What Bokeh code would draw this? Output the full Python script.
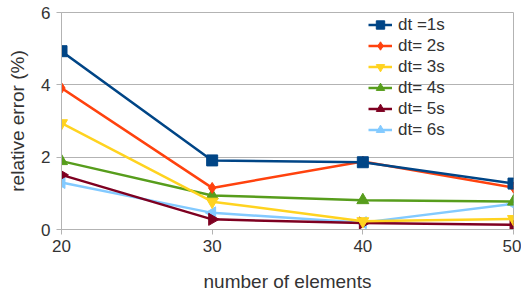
import math
from bokeh.plotting import figure
from bokeh.models import Legend, LegendItem, Range1d, FixedTicker
from bokeh.embed import file_html
from bokeh.resources import INLINE

elements = [20, 30, 40, 50]
labels = ["dt =1s", "dt= 2s", "dt= 3s", "dt= 4s", "dt= 5s", "dt= 6s"]
dt1 = [4.93, 1.91, 1.86, 1.27]
dt2 = [3.91, 1.15, 1.88, 1.16]
dt3 = [2.94, 0.77, 0.23, 0.29]
dt4 = [1.89, 0.94, 0.81, 0.77]
dt5 = [1.51, 0.28, 0.18, 0.13]
dt6 = [1.30, 0.46, 0.19, 0.71]
series = [dt1, dt2, dt3, dt4, dt5, dt6]

colors = ["#004586", "#ff420e", "#ffd320", "#579d1c", "#7e0021", "#83caff"]
markers = ["square", "diamond", "inverted_triangle", "triangle", "triangle", "triangle"]
angles = [0, 0, 0, 0, -math.pi / 2, math.pi / 2]
sizes = [11, 11, 12, 12, 12, 12]

FONT = "Liberation Sans"
GRID = "#b3b3b3"
TXT = "#333333"

p = figure(width=521, height=294, output_backend="svg", toolbar_location=None,
           x_range=Range1d(20, 50), y_range=Range1d(0, 6),
           min_border_top=12, min_border_right=8, min_border_left=61, min_border_bottom=64)
p.outline_line_color = GRID
p.outline_line_width = 1
p.background_fill_color = "white"
p.border_fill_color = "white"

p.xgrid.grid_line_color = None
p.ygrid.grid_line_color = GRID
p.ygrid.grid_line_width = 1

p.xaxis.ticker = FixedTicker(ticks=elements)
p.yaxis.ticker = FixedTicker(ticks=[0, 2, 4, 6])
for ax in (p.xaxis[0], p.yaxis[0]):
    ax.axis_line_color = GRID
    ax.major_tick_line_color = GRID
    ax.minor_tick_line_color = None
    ax.major_tick_in = 0
    ax.major_tick_out = 5
    ax.major_label_text_font = FONT
    ax.major_label_text_font_size = "17px"
    ax.major_label_text_color = TXT
    ax.axis_label_text_font = FONT
    ax.axis_label_text_font_size = "19px"
    ax.axis_label_text_font_style = "normal"
    ax.axis_label_text_color = TXT
p.xaxis.axis_label = "number of elements"
p.yaxis.axis_label = "relative error (%)"
p.xaxis.major_label_standoff = 5
p.xaxis.axis_label_standoff = 16
p.yaxis.major_label_standoff = 6
p.yaxis.axis_label_standoff = 10

rends = []
for i in reversed(range(6)):
    ln = p.line(elements, series[i], line_color=colors[i], line_width=2.5)
    sc = p.scatter(elements, series[i], marker=markers[i], size=sizes[i], angle=angles[i],
                   fill_color=colors[i], line_color=colors[i])
    rends.append((i, ln, sc))
rends.sort(key=lambda t: t[0])

items = [LegendItem(label=labels[i], renderers=[ln, sc]) for i, ln, sc in rends]
legend = Legend(items=items, location=(307, 89), padding=0, margin=0, spacing=0,
                label_height=21, glyph_height=21, glyph_width=24, label_standoff=6,
                background_fill_alpha=0, border_line_color=None,
                label_text_font=FONT, label_text_font_size="17px", label_text_color=TXT)
p.add_layout(legend, "center")

open("out.html", "w").write(file_html(p, INLINE))
